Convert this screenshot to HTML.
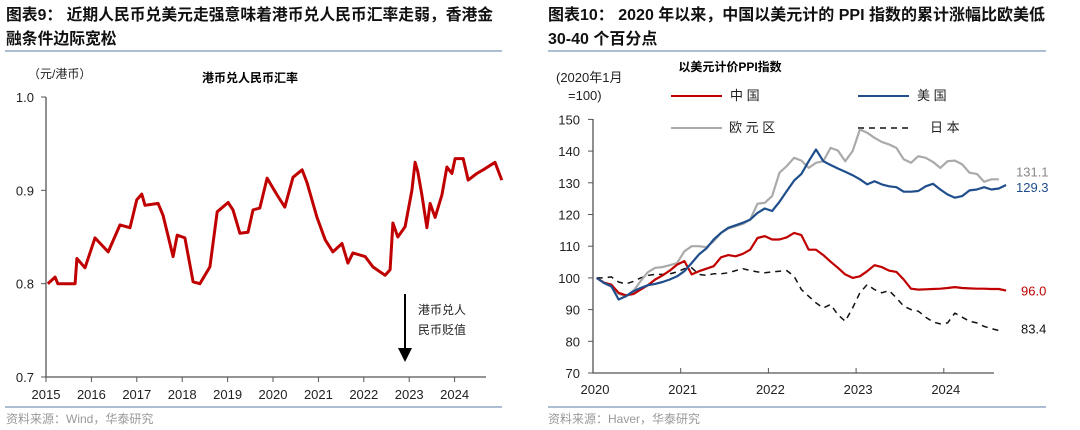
<!DOCTYPE html>
<html><head><meta charset="utf-8">
<style>
body{margin:0;width:1080px;height:430px;background:#fff;overflow:hidden;font-family:"Liberation Sans","Noto Sans CJK SC",sans-serif;}
svg{position:absolute;left:0;top:0;}
.t{font-weight:bold;font-size:14.5px;fill:#111;}
.tk{font-size:13px;fill:#222;}
.cn{font-size:12px;fill:#222;}
</style></head><body>
<svg width="1080" height="430">
<text class="t" x="6" y="20" style="font-size:15.8px">图表9：  近期人民币兑美元走强意味着港币兑人民币汇率走弱，香港金</text>
<text class="t" x="6" y="44" style="font-size:15.8px">融条件边际宽松</text>
<line x1="5" y1="51" x2="502" y2="51" stroke="#7b96b8" stroke-width="1.2"/>
<text class="t" x="548" y="20" style="font-size:16px">图表10：  2020 年以来，中国以美元计的 PPI 指数的累计涨幅比欧美低</text>
<text class="t" x="548" y="44" style="font-size:16px">30-40 个百分点</text>
<line x1="548" y1="51" x2="1046" y2="51" stroke="#7b96b8" stroke-width="1.2"/>
<line x1="5" y1="407" x2="502" y2="407" stroke="#7b96b8" stroke-width="1.2"/>
<line x1="548" y1="407" x2="1046" y2="407" stroke="#7b96b8" stroke-width="1.2"/>
<text class="cn" x="6" y="423" style="fill:#999">资料来源：Wind，华泰研究</text>
<text class="cn" x="548" y="423" style="fill:#999">资料来源：Haver，华泰研究</text>

<text class="cn" x="28" y="78">（元/港币）</text>
<text x="250" y="82" text-anchor="middle" style="font-size:12px;font-weight:bold">港币兑人民币汇率</text>
<g id="L"></g>
<line x1="405" y1="294" x2="405" y2="350" stroke="#000" stroke-width="2"/>
<polygon points="398,348 412,348 405,362" fill="#000"/>
<text class="cn" x="418" y="314">港币兑人</text>
<text class="cn" x="418" y="334">民币贬值</text>

<text x="730" y="71" text-anchor="middle" style="font-size:12px;font-weight:bold">以美元计价PPI指数</text>
<text class="tk" x="556" y="82">(2020年1月</text>
<text class="tk" x="568" y="100">=100)</text>
<g>
<line x1="671" y1="96" x2="722" y2="96" stroke="#c00000" stroke-width="2"/>
<text class="cn" x="730" y="100" style="font-size:13px">中 国</text>
<line x1="858" y1="96" x2="909" y2="96" stroke="#1f4e8c" stroke-width="2"/>
<text class="cn" x="917" y="100" style="font-size:13px">美 国</text>
<line x1="671" y1="128" x2="722" y2="128" stroke="#aaa" stroke-width="2"/>
<text class="cn" x="729" y="132" style="font-size:13px">欧 元 区</text>
<line x1="858" y1="128" x2="909" y2="128" stroke="#111" stroke-width="1.5" stroke-dasharray="6,5"/>
<text class="cn" x="930" y="132" style="font-size:13px">日 本</text>
</g>
<g id="R"></g>
</svg>
<script>
const NS="http://www.w3.org/2000/svg";
function mk(p,t,a){const e=document.createElementNS(NS,t);for(const k in a)e.setAttribute(k,a[k]);p.appendChild(e);return e;}
// Left chart data
const hkdYears=[0.04,0.20,0.26,0.64,0.68,0.86,1.08,1.37,1.63,1.85,2.00,2.11,2.18,2.47,2.58,2.80,2.89,3.06,3.24,3.39,3.61,3.77,4.01,4.12,4.27,4.45,4.56,4.71,4.87,5.09,5.26,5.44,5.64,5.75,5.97,6.15,6.32,6.52,6.65,6.76,7.03,7.20,7.47,7.58,7.64,7.75,7.91,8.06,8.13,8.19,8.28,8.39,8.46,8.57,8.72,8.83,8.94,9.01,9.19,9.30,9.49,9.63,9.89,10.04];
const hkdValues=[0.80,0.807,0.80,0.80,0.827,0.817,0.849,0.834,0.863,0.86,0.89,0.896,0.884,0.886,0.873,0.829,0.852,0.849,0.802,0.80,0.818,0.877,0.887,0.879,0.854,0.855,0.879,0.881,0.913,0.895,0.882,0.914,0.922,0.908,0.871,0.847,0.834,0.843,0.822,0.833,0.829,0.818,0.809,0.815,0.865,0.85,0.861,0.90,0.93,0.92,0.895,0.86,0.886,0.871,0.895,0.925,0.918,0.934,0.934,0.911,0.918,0.922,0.93,0.911];
const leftYTicks=[0.7,0.8,0.9,1.0];
const leftXTicks=[2015,2016,2017,2018,2019,2020,2021,2022,2023,2024];
const lx=y=>46+45.4*y, ly=v=>377-(v-0.7)/0.3*280;
const L=document.getElementById('L');
let a=mk(L,'path',{d:'M46,97 V377 H486',fill:'none',stroke:'#555','stroke-width':1.3});

leftYTicks.forEach(v=>{let t=mk(L,'line',{x1:41,x2:46,y1:ly(v),y2:ly(v),stroke:'#555'});

let s=mk(L,'text',{x:34,y:ly(v)+5,'text-anchor':'end',class:'tk'});s.textContent=v.toFixed(1);
});
leftXTicks.forEach(yr=>{const x=lx(yr-2015);let t=mk(L,'line',{x1:x,x2:x,y1:377,y2:382,stroke:'#555'});

let s=mk(L,'text',{x:x,y:399,'text-anchor':'middle',class:'tk'});s.textContent=yr;
});
let p=mk(L,'path',{d:hkdYears.map((y,i)=>(i?'L':'M')+lx(y).toFixed(1)+','+ly(hkdValues[i]).toFixed(1)).join(''),fill:'none',stroke:'#c00000','stroke-width':3,'stroke-linejoin':'round'});


// Right chart data
const chinaPPI=[100,98.5,97.9,95.3,94.5,94.9,96.3,97.7,99.5,100.8,102.3,104.2,105.3,101.1,102.1,102.9,103.7,106.5,107.2,106.8,107.6,108.9,112.6,113.2,112.1,112.1,112.8,114.2,113.5,108.9,108.9,107.2,105.1,103.2,101.1,100,100.5,102.1,104,103.4,102.3,101.9,99.5,96.6,96.3,96.4,96.5,96.6,96.8,97.1,96.8,96.7,96.6,96.6,96.5,96.5,96.0];
const usPPI=[100,98.4,97.4,93.2,94.2,95.8,96.8,97.7,98.1,98.7,99.5,100.5,102.1,104.7,107.4,109.3,112.1,114.2,115.8,116.6,117.4,118.4,120.5,121.9,121.1,124,127.4,130.7,132.8,136.8,140.5,136.8,135.6,134.5,133.5,132.4,131.1,129.5,130.5,129.5,128.9,128.6,127.2,127.2,127.4,128.9,129.7,127.9,126.3,125.3,125.8,127.6,127.9,128.6,127.9,128.2,129.3];
const euroPPI=[100,98.4,97.2,95,94.2,95.8,99,101.8,103.2,103.4,104,104.7,108.4,110,110,109.7,111.6,114.2,115.6,116.3,117,118.4,123.4,123.7,125.8,133.2,135.3,137.9,137,134.7,136.3,136.8,141,140.2,136.8,140,146.8,145.8,144.2,142.9,142.1,141,137.4,136.3,138.4,137.9,136.6,134.7,136.8,137,135.8,133.2,132.8,130.3,131.1,131.1];
const japanPPI=[100,100,100.3,98.7,98.1,98.9,100,100.8,101.1,101.1,101.3,101.9,102.9,103.2,101.1,100.8,101.3,101.3,101.6,102.3,102.9,102.3,101.9,101.6,101.9,102.1,102.3,100.5,96.3,94.2,92.1,90.5,91.6,88.4,86.3,90.5,95.3,97.9,96.3,95.3,96,93.7,91.1,90,89.5,87.6,86.1,85.5,85.8,88.9,87.6,86.3,85.8,84.7,84,83.4];
const rightYTicks=[70,80,90,100,110,120,130,140,150];
const rightXTicks=[2020,2021,2022,2023,2024];
const rx=m=>596.7+7.31*m, ry=v=>373-(v-70)*3.17;
const R=document.getElementById('R');
a=mk(R,'path',{d:'M593,119 V373 H994',fill:'none',stroke:'#555','stroke-width':1.3});

rightYTicks.forEach(v=>{let t=mk(R,'line',{x1:588,x2:593,y1:ry(v),y2:ry(v),stroke:'#555'});

let s=mk(R,'text',{x:580,y:ry(v)+5,'text-anchor':'end',class:'tk'});s.textContent=v;
});
rightXTicks.forEach(yr=>{const x=593+87.7*(yr-2020);let t=mk(R,'line',{x1:x,x2:x,y1:368,y2:373,stroke:'#555'});

let s=mk(R,'text',{x:x+2,y:394,'text-anchor':'middle',class:'tk'});s.textContent=yr;
});
function series(arr,col,w,dash,name){const d=arr.map((v,i)=>(i?'L':'M')+rx(i).toFixed(1)+','+ry(v).toFixed(1)).join('');
const e=mk(R,'path',{d:d,fill:'none',stroke:col,'stroke-width':w,'stroke-linejoin':'round'});if(dash)e.setAttribute('stroke-dasharray',dash);
}
series(japanPPI,'#111',1.5,'6,5','japan-line');
series(euroPPI,'#aaa',2.2,null,'euro-line');
series(chinaPPI,'#c00000',2.2,null,'china-line');
series(usPPI,'#1f4e8c',2.2,null,'us-line');
function endLabel(arr,col,x,dy,name){const s=mk(R,'text',{x:x,y:ry(arr[arr.length-1])+dy,style:'font-size:13px;fill:'+col});s.textContent=arr[arr.length-1].toFixed(1);
}
endLabel(euroPPI,'#888',1016,-3,'euro-end-label');
endLabel(usPPI,'#1f4e8c',1016,7,'us-end-label');
endLabel(chinaPPI,'#c00000',1021,5,'china-end-label');
endLabel(japanPPI,'#111',1021,3,'japan-end-label');
</script>
</body></html>
